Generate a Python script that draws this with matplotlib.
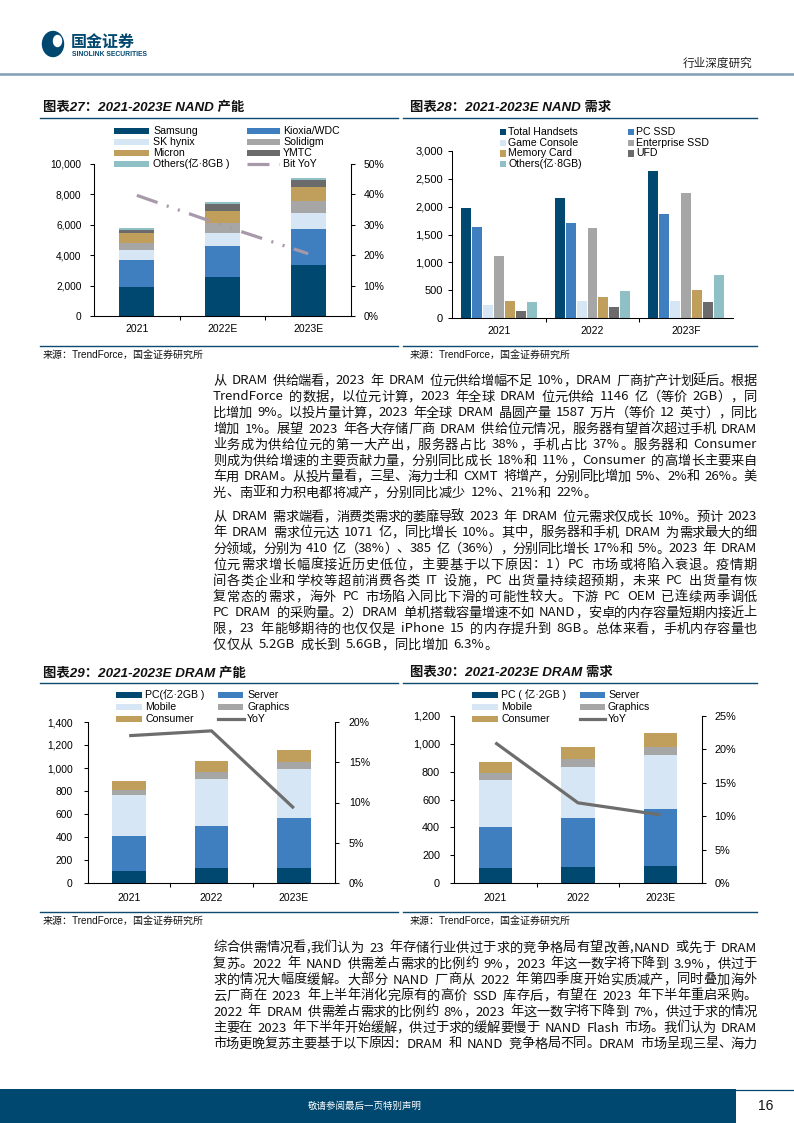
import re
import matplotlib
matplotlib.use('Agg')
import matplotlib.pyplot as plt
from matplotlib.patches import Rectangle, Ellipse
from matplotlib.lines import Line2D
from matplotlib.ticker import FuncFormatter, MultipleLocator
import numpy as np

plt.rcParams['font.family'] = ['Liberation Sans', 'Noto Sans CJK SC']
plt.rcParams['lines.scale_dashes'] = False
plt.rcParams['axes.linewidth'] = 0.75

# ---------------- data ----------------
nand_sup_years = ['2021', '2022E', '2023E']
nand_samsung = [1910, 2570, 3360]
nand_kioxia = [1780, 2045, 2375]
nand_skhynix = [660, 860, 1055]
nand_solidigm = [460, 660, 790]
nand_micron = [680, 790, 925]
nand_ymtc = [175, 460, 460]
nand_others = [130, 130, 130]
nand_bit_yoy = [0.397, 0.298, 0.205]
nand_sup_labels = ['Samsung', 'Kioxia/WDC', 'SK hynix', 'Solidigm', 'Micron', 'YMTC',
                   'Others(亿·8GB )', 'Bit YoY']

nand_dem_years = ['2021', '2022', '2023F']
dem_handsets = [1980, 2155, 2640]
dem_pc_ssd = [1635, 1710, 1875]
dem_game = [240, 310, 310]
dem_enterprise = [1115, 1620, 2245]
dem_memcard = [310, 380, 505]
dem_ufd = [130, 190, 290]
dem_others = [290, 490, 775]
nand_dem_labels = ['Total Handsets', 'PC SSD', 'Game Console', 'Enterprise SSD',
                   'Memory Card', 'UFD', 'Others(亿·8GB)']

dram_sup_years = ['2021', '2022', '2023E']
sup_pc = [105, 128, 128]
sup_server = [302, 369, 435]
sup_mobile = [360, 406, 427]
sup_graphics = [43, 61, 61]
sup_consumer = [76, 96, 105]
sup_yoy = [0.183, 0.189, 0.093]
dram_sup_labels = ['PC(亿·2GB )', 'Server', 'Mobile', 'Graphics', 'Consumer', 'YoY']

dram_dem_years = ['2021', '2022', '2023E']
dem2_pc = [110, 117, 124]
dem2_server = [294, 352, 409]
dem2_mobile = [337, 365, 387]
dem2_graphics = [50, 58, 58]
dem2_consumer = [79, 86, 100]
dem2_yoy = [0.21, 0.12, 0.102]
dram_dem_labels = ['PC ( 亿·2GB )', 'Server', 'Mobile', 'Graphics', 'Consumer', 'YoY']

# ---------------- style ----------------
NAVY = '#004870'
BLUE = '#3f7fbf'
LIGHT = '#d6e6f4'
GRAY = '#a6a6a6'
TAN = '#c09e5c'
DGRAY = '#6b6b6b'
TEAL = '#8fc0c5'
BITYOY = '#a899aa'
YOYC = '#6d6d6d'
LINEC = '#0d4a6e'

W, H = 794, 1123
fig = plt.figure(figsize=(W / 100, H / 100), dpi=100)


def fx(x):
    return x / W


def fy(y):
    return 1 - y / H


def rect(x0, yt, x1, yb):
    return [x0 / W, 1 - yb / H, (x1 - x0) / W, (yb - yt) / H]


def hline(x0, x1, y, color, lw):
    fig.add_artist(Line2D([fx(x0), fx(x1)], [fy(y), fy(y)], color=color, lw=lw,
                          transform=fig.transFigure))


def leg_patch(x, yc, w, h, color, label, tx, size=7.6):
    fig.add_artist(Rectangle((fx(x), fy(yc + h / 2)), w / W, h / H, color=color,
                             transform=fig.transFigure, lw=0))
    fig.text(fx(tx), fy(yc), label, fontsize=size, va='center', ha='left')


def leg_line(x0, x1, yc, color, lw, label, tx, dashes=None, size=7.6):
    ln = Line2D([fx(x0), fx(x1)], [fy(yc), fy(yc)], color=color, lw=lw,
                transform=fig.transFigure)
    if dashes:
        ln.set_dashes(dashes)
    fig.add_artist(ln)
    fig.text(fx(tx), fy(yc), label, fontsize=size, va='center', ha='left')


def comma(v, p):
    return f'{int(round(v)):,}'


def pct(v, p):
    return f'{v * 100:.0f}%'


def base_axes(ax, cats, ysize, xsize=7.5, right_spine=True, pad=5.5, xpad=6):
    ax.spines['top'].set_visible(False)
    ax.spines['right'].set_visible(right_spine)
    ax.set_xlim(-0.5, len(cats) - 0.5)
    ax.set_xticks(range(len(cats)))
    ax.set_xticklabels(cats, fontsize=xsize)
    ax.tick_params(axis='x', which='major', length=0, pad=xpad)
    ax.set_xticks([i + 0.5 for i in range(len(cats) - 1)], minor=True)
    ax.tick_params(axis='x', which='minor', length=3, direction='out', width=0.75)
    ax.tick_params(axis='y', length=3, direction='out', width=0.75, labelsize=ysize, pad=pad)
    ax.yaxis.set_major_formatter(FuncFormatter(comma))


def stacked(ax, cats, series, colors, width):
    x = np.arange(len(cats))
    bottom = np.zeros(len(cats))
    for vals, c in zip(series, colors):
        vals = np.asarray(vals, dtype=float)
        ax.bar(x, vals, width, bottom=bottom, color=c, linewidth=0, zorder=2)
        bottom += vals


# ---------------- header / footer ----------------
fig.add_artist(Ellipse((fx(53), fy(44)), 21 / W, 25 / H, color=NAVY, transform=fig.transFigure))
fig.add_artist(Ellipse((fx(57.5), fy(41)), 8 / W, 11 / H, color='white', transform=fig.transFigure))
fig.text(fx(71), fy(42), '国金证券', fontsize=11.5, weight='bold', color=NAVY,
         family=['Noto Sans CJK SC'], va='center', ha='left')
fig.text(fx(72), fy(54), 'SINOLINK SECURITIES', fontsize=4.9, weight='bold', color=NAVY,
         family=['Liberation Sans'], va='center', ha='left')
fig.text(fx(752), fy(63), '行业深度研究', fontsize=8.4, color='#222222',
         family=['Noto Sans CJK SC'], va='center', ha='right')
hline(0, 794, 74, '#7f9fb6', 1.8)

fig.add_artist(Rectangle((0, fy(1123)), 736 / W, (1123 - 1089) / H, color=NAVY,
                         transform=fig.transFigure, lw=0))
hline(736, 794, 1090, NAVY, 0.9)
fig.text(fx(365), fy(1106), '敬请参阅最后一页特别声明', fontsize=6.8, color='white',
         family=['Noto Sans CJK SC'], va='center', ha='center')
fig.text(fx(766), fy(1106), '16', fontsize=10, color='#111111', va='center', ha='center')

# ---------------- titles / panel lines / sources ----------------
title_kw = dict(fontsize=9.6, weight='bold', style='italic', va='center', ha='left',
                color='#111111')
fig.text(fx(43), fy(108), '图表27：2021-2023E NAND 产能', **title_kw)
fig.text(fx(410), fy(108), '图表28：2021-2023E NAND 需求', **title_kw)
fig.text(fx(43), fy(673), '图表29：2021-2023E DRAM 产能', **title_kw)
fig.text(fx(410), fy(673), '图表30：2021-2023E DRAM 需求', **title_kw)
for y in (118, 346, 683, 912):
    hline(40, 398, y, LINEC, 1.0)
    hline(403, 757, y, LINEC, 1.0)
src = '来源：TrendForce，国金证券研究所'
for x, y in ((43, 356), (410, 356), (43, 922), (410, 922)):
    fig.text(fx(x), fy(y), src, fontsize=7.2, va='center', ha='left', color='#111111')

# ---------------- chart 27: NAND supply ----------------
ax1 = fig.add_axes(rect(94, 164, 351, 316))
stacked(ax1, nand_sup_years,
        [nand_samsung, nand_kioxia, nand_skhynix, nand_solidigm, nand_micron, nand_ymtc, nand_others],
        [NAVY, BLUE, LIGHT, GRAY, TAN, DGRAY, TEAL], 0.41)
ax1.set_ylim(0, 10000)
ax1.yaxis.set_major_locator(MultipleLocator(2000))
base_axes(ax1, nand_sup_years, 7.3, pad=6)
t1 = ax1.twinx()
t1.set_ylim(0, 0.5)
t1.yaxis.set_major_locator(MultipleLocator(0.1))
t1.yaxis.set_major_formatter(FuncFormatter(pct))
t1.tick_params(axis='y', length=3, direction='out', width=0.75, labelsize=7.5, pad=6)
t1.spines['top'].set_visible(False)
bit_dash = (15.8, 7, 1.5, 7, 1.5, 7)
t1.plot(range(3), nand_bit_yoy, color=BITYOY, lw=2.3, dashes=bit_dash, zorder=3)

rows = [131, 142, 153, 164]
c1 = [NAVY, LIGHT, TAN, TEAL]
c2 = [BLUE, GRAY, DGRAY]
for i in range(4):
    leg_patch(114, rows[i], 35, 6.5, c1[i], nand_sup_labels[2 * i], 153)
for i in range(3):
    leg_patch(247, rows[i], 33, 6.5, c2[i], nand_sup_labels[2 * i + 1], 283)
leg_line(247, 279, rows[3], BITYOY, 2.3, nand_sup_labels[7], 283, dashes=bit_dash)

# ---------------- chart 28: NAND demand ----------------
ax2 = fig.add_axes(rect(452, 151, 733, 318))
dem_series = [dem_handsets, dem_pc_ssd, dem_game, dem_enterprise, dem_memcard, dem_ufd, dem_others]
dem_colors = [NAVY, BLUE, LIGHT, GRAY, TAN, DGRAY, TEAL]
xg = np.arange(3)
step = 11 / 93.7
for k, (vals, c) in enumerate(zip(dem_series, dem_colors)):
    ax2.bar(xg + (k - 3) * step, vals, 10 / 93.7, color=c, linewidth=0, zorder=2)
ax2.set_ylim(0, 3000)
ax2.yaxis.set_major_locator(MultipleLocator(500))
base_axes(ax2, nand_dem_years, 8.0, right_spine=False, pad=3.5)

rows2 = [132, 143, 153.5, 164]
for i in range(4):
    leg_patch(500, rows2[i], 6.5, 6.5, dem_colors[2 * i], nand_dem_labels[2 * i], 508)
for i in range(3):
    leg_patch(627.5, rows2[i], 6.5, 6.5, dem_colors[2 * i + 1], nand_dem_labels[2 * i + 1], 636)

# ---------------- chart 29: DRAM supply ----------------
dram_colors = [NAVY, BLUE, LIGHT, GRAY, TAN]
ax3 = fig.add_axes(rect(88, 722, 335, 883))
stacked(ax3, dram_sup_years, [sup_pc, sup_server, sup_mobile, sup_graphics, sup_consumer],
        dram_colors, 0.41)
ax3.set_ylim(0, 1400)
ax3.yaxis.set_major_locator(MultipleLocator(200))
base_axes(ax3, dram_sup_years, 7.4, pad=8, xpad=7)
t3 = ax3.twinx()
t3.set_ylim(0, 0.2)
t3.yaxis.set_major_locator(MultipleLocator(0.05))
t3.yaxis.set_major_formatter(FuncFormatter(pct))
t3.tick_params(axis='y', length=3, direction='out', width=0.75, labelsize=7.6, pad=7)
t3.spines['top'].set_visible(False)
t3.plot(range(3), sup_yoy, color=YOYC, lw=2.3, zorder=3, solid_capstyle='butt')

rows3 = [695, 707, 719]
for i in range(3):
    leg_patch(116, rows3[i], 26, 6.5, dram_colors[2 * i], dram_sup_labels[2 * i], 145)
for i in range(2):
    leg_patch(218, rows3[i], 25, 6.5, dram_colors[2 * i + 1], dram_sup_labels[2 * i + 1], 247)
leg_line(218, 244, rows3[2], YOYC, 2.3, dram_sup_labels[5], 247)

# ---------------- chart 30: DRAM demand ----------------
ax4 = fig.add_axes(rect(454, 716, 702, 883))
stacked(ax4, dram_dem_years, [dem2_pc, dem2_server, dem2_mobile, dem2_graphics, dem2_consumer],
        dram_colors, 0.40)
ax4.set_ylim(0, 1200)
ax4.yaxis.set_major_locator(MultipleLocator(200))
base_axes(ax4, dram_dem_years, 7.8, pad=7, xpad=7)
t4 = ax4.twinx()
t4.set_ylim(0, 0.25)
t4.yaxis.set_major_locator(MultipleLocator(0.05))
t4.yaxis.set_major_formatter(FuncFormatter(pct))
t4.tick_params(axis='y', length=3, direction='out', width=0.75, labelsize=7.8, pad=6)
t4.spines['top'].set_visible(False)
t4.plot(range(3), dem2_yoy, color=YOYC, lw=2.3, zorder=3, solid_capstyle='butt')

for i in range(3):
    leg_patch(472, rows3[i], 26, 6.5, dram_colors[2 * i], dram_dem_labels[2 * i], 501)
for i in range(2):
    leg_patch(580, rows3[i], 25, 6.5, dram_colors[2 * i + 1], dram_dem_labels[2 * i + 1], 608)
leg_line(580, 605, rows3[2], YOYC, 2.3, dram_dem_labels[5], 608)

# ---------------- body text ----------------
para1 = [
    '从 DRAM 供给端看，2023 年 DRAM 位元供给增幅不足 10%，DRAM 厂商扩产计划延后。根据',
    'TrendForce 的数据，以位元计算，2023 年全球 DRAM 位元供给 1146 亿（等价 2GB），同',
    '比增加 9%。以投片量计算，2023 年全球 DRAM 晶圆产量 1587 万片（等价 12 英寸），同比',
    '增加 1%。展望 2023 年各大存储厂商 DRAM 供给位元情况，服务器有望首次超过手机 DRAM',
    '业务成为供给位元的第一大产出，服务器占比 38%，手机占比 37%。服务器和 Consumer',
    '则成为供给增速的主要贡献力量，分别同比成长 18%和 11%，Consumer 的高增长主要来自',
    '车用 DRAM。从投片量看，三星、海力士和 CXMT 将增产，分别同比增加 5%、2%和 26%。美',
    '光、南亚和力积电都将减产，分别同比减少 12%、21%和 22%。',
]
para2 = [
    '从 DRAM 需求端看，消费类需求的萎靡导致 2023 年 DRAM 位元需求仅成长 10%。预计 2023',
    '年 DRAM 需求位元达 1071 亿，同比增长 10%。其中，服务器和手机 DRAM 为需求最大的细',
    '分领域，分别为 410 亿（38%）、385 亿（36%），分别同比增长 17%和 5%。2023 年 DRAM',
    '位元需求增长幅度接近历史低位，主要基于以下原因：1）PC 市场或将陷入衰退。疫情期',
    '间各类企业和学校等超前消费各类 IT 设施，PC 出货量持续超预期，未来 PC 出货量有恢',
    '复常态的需求，海外 PC 市场陷入同比下滑的可能性较大。下游 PC OEM 已连续两季调低',
    'PC DRAM 的采购量。2）DRAM 单机搭载容量增速不如 NAND，安卓的内存容量短期内接近上',
    '限，23 年能够期待的也仅仅是 iPhone 15 的内存提升到 8GB。总体来看，手机内存容量也',
    '仅仅从 5.2GB 成长到 5.6GB，同比增加 6.3%。',
]
para3 = [
    '综合供需情况看,我们认为 23 年存储行业供过于求的竞争格局有望改善,NAND 或先于 DRAM',
    '复苏。2022 年 NAND 供需差占需求的比例约 9%，2023 年这一数字将下降到 3.9%，供过于',
    '求的情况大幅度缓解。大部分 NAND 厂商从 2022 年第四季度开始实质减产，同时叠加海外',
    '云厂商在 2023 年上半年消化完原有的高价 SSD 库存后，有望在 2023 年下半年重启采购。',
    '2022 年 DRAM 供需差占需求的比例约 8%，2023 年这一数字将下降到 7%，供过于求的情况',
    '主要在 2023 年下半年开始缓解，供过于求的缓解要慢于 NAND Flash 市场。我们认为 DRAM',
    '市场更晚复苏主要基于以下原因：DRAM 和 NAND 竞争格局不同。DRAM 市场呈现三星、海力',
]

renderer = fig.canvas.get_renderer()
BODY_SIZE = 9.5
body_kw = dict(fontsize=BODY_SIZE, family=['Noto Sans CJK SC'], color='#111111',
               va='center', ha='left')
X0, X1 = 213, 757
SPACE = 0.42 * BODY_SIZE * 100 / 72
_wcache = {}


def measure(s):
    if s not in _wcache:
        t = fig.text(0, 0, s, **body_kw)
        _wcache[s] = t.get_window_extent(renderer).width
        t.remove()
    return _wcache[s]


def units_of(s):
    # Latin words / numbers stay together, every CJK glyph is its own unit
    out = []
    space_before = False
    for m in re.finditer(r'[A-Za-z0-9%\.]+|\s|.', s):
        tok = m.group(0)
        if tok.isspace():
            space_before = True
            continue
        out.append((tok, space_before))
        space_before = False
    return out


def put_line(s, y, justify):
    units = units_of(s)
    widths = [measure(u) for u, _ in units]
    spaces = [SPACE if sp else 0.0 for _, sp in units]
    natural = sum(widths) + sum(spaces[1:])
    extra = (X1 - X0 - natural) / (len(units) - 1) if justify else 0.0
    x = X0
    for i, ((u, sp), w) in enumerate(zip(units, widths)):
        if i > 0:
            x += spaces[i] + extra
        fig.text(fx(x), fy(y), u, **body_kw)
        x += w


def put_para(lines, y0, last_full=False):
    for i, s in enumerate(lines):
        justify = last_full or i < len(lines) - 1
        put_line(s, y0 + 16 * i, justify)


put_para(para1, 381)
put_para(para2, 517)
put_para(para3, 948, last_full=True)

fig.savefig('out.png', dpi=100)
